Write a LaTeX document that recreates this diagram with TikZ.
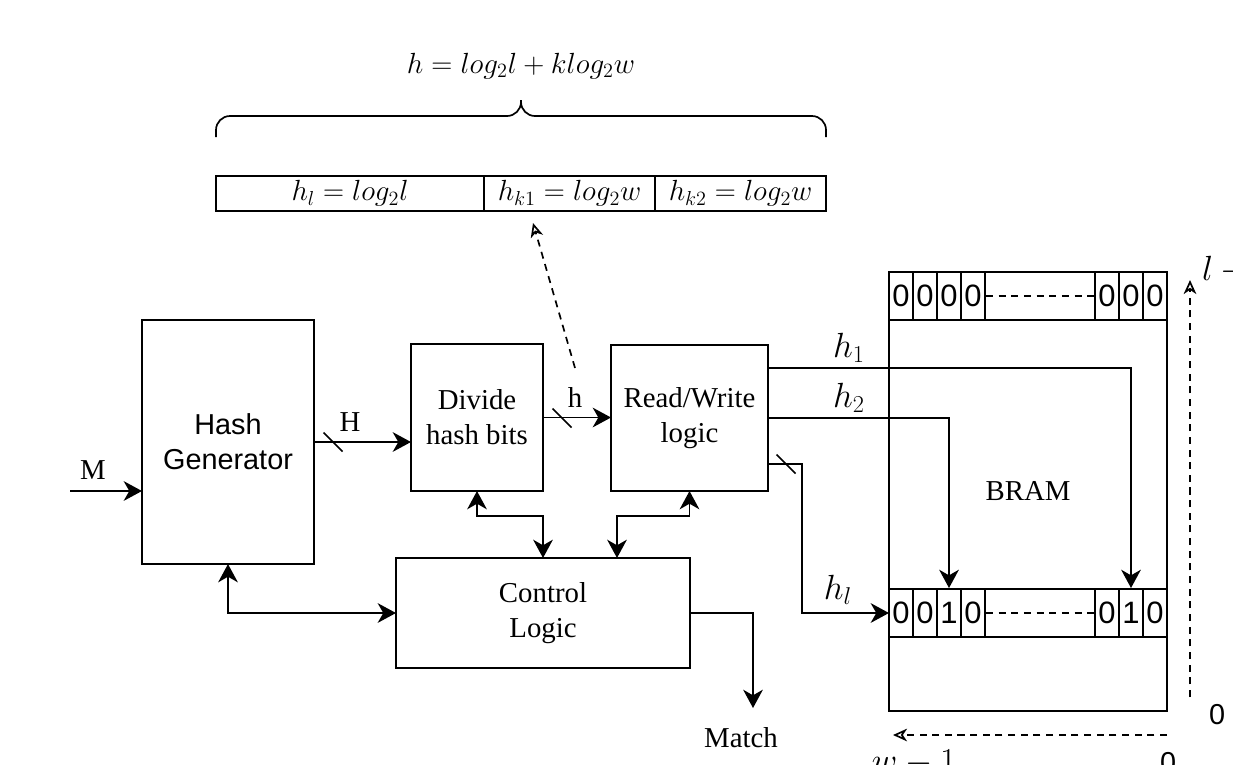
\documentclass[tikz,border=0pt]{standalone}
\usepackage{fontspec}
\setmainfont{Liberation Serif}
\setsansfont{Liberation Sans}
\usetikzlibrary{arrows.meta}
\begin{document}
\begin{tikzpicture}[
    x=0.025cm,
    y=-0.025cm,
    line width=1.4pt,
    font=\fontsize{20.5}{25}\selectfont,
    box/.style={draw, align=center, inner sep=0pt, outer sep=0pt},
    cell/.style={draw, minimum width=0.6cm, minimum height=1.2cm, inner sep=0pt,
      font=\sffamily\fontsize{22}{22}\selectfont},
    maths/.style={font=\fontsize{23}{28}\selectfont},
    field/.style={box, minimum height=0.875cm, font=\fontsize{21}{25}\selectfont},
    arr/.style={-{Stealth[length=13pt, width=14pt, inset=4pt]}},
    dbl/.style={{Stealth[length=13pt, width=14pt, inset=4pt]}-{Stealth[length=13pt, width=14pt, inset=4pt]}},
    idx/.style={line width=1.2pt, dash pattern=on 5pt off 4pt,
      -{Stealth[open, length=10pt, width=9pt, inset=3pt]}},
    bus/.style={line width=1.2pt}
  ]
    \path[use as bounding box, clip] (0,0) rectangle (1233,764);

    \node[font=\fontsize{22}{28}\selectfont] (hform) at (521,66) {$h = log_2 l + k log_2 w$};
    \draw[line width=1.2pt, rounded corners=0.35cm] (216,137) -- (216,116) -- (521,116) -- (521,100);
    \draw[line width=1.2pt, rounded corners=0.35cm] (826,137) -- (826,116) -- (521,116) -- (521,100);
    \node[field, minimum width=6.7cm] (fl) at (350,193.5) {$h_l = log_2 l$};
    \node[field, minimum width=4.275cm, anchor=west] (fk1) at (fl.east) {$h_{k1} = log_2 w$};
    \node[field, minimum width=4.275cm, anchor=west] (fk2) at (fk1.east) {$h_{k2} = log_2 w$};

    \node[box, minimum width=4.3cm, minimum height=6.1cm, font=\sffamily\fontsize{20.5}{25}\selectfont] (hashgen) at (228,442) {Hash\\Generator};
    \node[box, minimum width=3.3cm, minimum height=3.675cm] (divide) at (477,417.5) {Divide\\hash bits};
    \node[box, minimum width=3.925cm, minimum height=3.65cm] (rw) at (689.5,418) {Read/Write\\logic};
    \node[box, minimum width=7.35cm, minimum height=2.75cm] (control) at (543,613) {Control\\Logic};
    \node[box, minimum width=6.95cm, minimum height=10.975cm] (bram) at (1028,491.5) {BRAM};

    \node[box, minimum width=6.95cm, minimum height=1.2cm] (toprow) at (1028,296) {};
    \node[box, minimum width=6.95cm, minimum height=1.2cm] (botrow) at (1028,613) {};
    \foreach \b [count=\i] in {0,0,0,0}
      \node[cell] (t\i) at (877+24*\i,296) {\b};
    \foreach \b [count=\i] in {0,0,0}
      \node[cell] (tr\i) at (1083+24*\i,296) {\b};
    \foreach \b [count=\i] in {0,0,1,0}
      \node[cell] (b\i) at (877+24*\i,613) {\b};
    \foreach \b [count=\i] in {0,1,0}
      \node[cell] (br\i) at (1083+24*\i,613) {\b};
    \draw[line width=1.2pt, dash pattern=on 5pt off 4pt] (t4) -- (tr1);
    \draw[line width=1.2pt, dash pattern=on 5pt off 4pt] (b4) -- (br1);

    \coordinate (min) at (70,491);
    \draw[arr] (min) -- (min -| hashgen.west);
    \node (lblM) at (93,470) {M};
    \draw[arr] (hashgen.east) -- (hashgen.east -| divide.west);
    \draw[bus] (333,442) +(-9.5,-9.5) -- +(9.5,9.5);
    \node (lblH) at (350,422) {H};
    \draw[arr] (divide.east) -- (divide.east -| rw.west);
    \draw[bus] (562,418) +(-9.5,-9.5) -- +(9.5,9.5);
    \node (lblh) at (575,397) {h};

    \coordinate (ptail) at (575,368);
    \coordinate (phead) at (533,223);
    \draw[idx] (ptail) -- (phead);

    \draw[arr] ([yshift=1.25cm]rw.east) -| (br2.north);
    \node[maths] (lblh1) at (849,348) {$h_1$};
    \draw[arr] (rw.east) -| (b3.north);
    \node[maths] (lblh2) at (849,398) {$h_2$};
    \draw[arr] ([yshift=-1.15cm]rw.east) -- ++(34,0) |- (botrow.west);
    \draw[bus] (786,464) +(-9.5,-9.5) -- +(9.5,9.5);
    \node[maths] (lblhl) at (838,590) {$h_l$};

    \draw[dbl] (hashgen.south) |- (control.west);
    \coordinate (jl) at (543,516);
    \draw[dbl] (divide.south) |- (jl) -- (jl |- control.north);
    \coordinate (jr) at (617,516);
    \draw[dbl] (rw.south) |- (jr) -- (jr |- control.north);
    \coordinate (mout) at (753,708);
    \draw[arr] (control.east) -| (mout);
    \node (lblmatch) at (741,738) {Match};

    \coordinate (lo) at (1190,697);
    \coordinate (lhi) at (1190,280);
    \draw[idx] (lo) -- (lhi);
    \node[maths, anchor=base west, inner sep=0pt] (ltop) at (1201,280) {$l-1$};
    \node[font=\sffamily\fontsize{20.5}{25}\selectfont] (lzero) at (1217,715) {0};
    \coordinate (wlo) at (1167,735);
    \coordinate (whi) at (893,735);
    \draw[idx] (wlo) -- (whi);
    \node[maths, anchor=base, inner sep=0pt] (wtop) at (914,772) {$w-1$};
    \node[anchor=base, inner sep=0pt, font=\sffamily\fontsize{20.5}{25}\selectfont] (wzero) at (1168,772) {0};
\end{tikzpicture}
\end{document}
